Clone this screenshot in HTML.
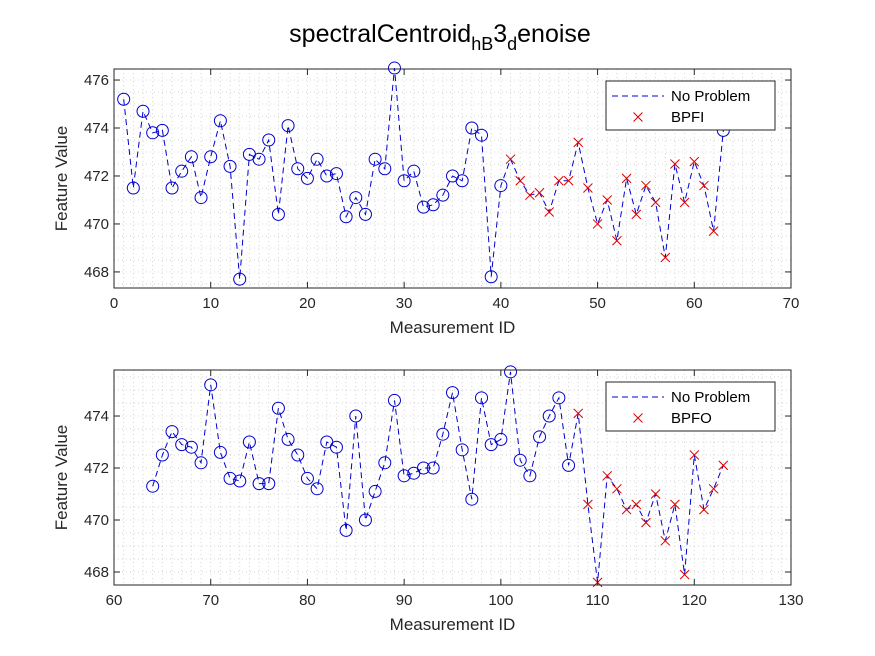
<!DOCTYPE html>
<html><head><meta charset="utf-8"><style>
html,body{margin:0;padding:0;background:#fff;}
svg{display:block;font-family:"Liberation Sans",sans-serif;}
</style></head><body>
<svg id="fig" width="875" height="656" viewBox="0 0 875 656" xmlns="http://www.w3.org/2000/svg">
<rect width="875" height="656" fill="#fff"/>
<text x="440" y="42" font-size="25" text-anchor="middle" fill="#000">spectralCentroid<tspan font-size="18" dy="8">hB</tspan><tspan dy="-8">3</tspan><tspan font-size="18" dy="8">d</tspan><tspan dy="-8">enoise</tspan></text>
</svg>
<script>
const topIds=[1,2,3,4,5,6,7,8,9,10,11,12,13,14,15,16,17,18,19,20,21,22,23,24,25,26,27,28,29,30,31,32,33,34,35,36,37,38,39,40,41,42,43,44,45,46,47,48,49,50,51,52,53,54,55,56,57,58,59,60,61,62,63];
const topValues=[475.2,471.5,474.7,473.8,473.9,471.5,472.2,472.8,471.1,472.8,474.3,472.4,467.7,472.9,472.7,473.5,470.4,474.1,472.3,471.9,472.7,472.0,472.1,470.3,471.1,470.4,472.7,472.3,476.5,471.8,472.2,470.7,470.8,471.2,472.0,471.8,474.0,473.7,467.8,471.6,472.7,471.8,471.2,471.3,470.5,471.8,471.8,473.4,471.5,470.0,471.0,469.3,471.9,470.4,471.6,470.9,468.6,472.5,470.9,472.6,471.6,469.7,473.9];
const topFault=[0,0,0,0,0,0,0,0,0,0,0,0,0,0,0,0,0,0,0,0,0,0,0,0,0,0,0,0,0,0,0,0,0,0,0,0,0,0,0,0,1,1,1,1,1,1,1,1,1,1,1,1,1,1,1,1,1,1,1,1,1,1,0];
const botIds=[64,65,66,67,68,69,70,71,72,73,74,75,76,77,78,79,80,81,82,83,84,85,86,87,88,89,90,91,92,93,94,95,96,97,98,99,100,101,102,103,104,105,106,107,108,109,110,111,112,113,114,115,116,117,118,119,120,121,122,123];
const botValues=[471.3,472.5,473.4,472.9,472.8,472.2,475.2,472.6,471.6,471.5,473.0,471.4,471.4,474.3,473.1,472.5,471.6,471.2,473.0,472.8,469.6,474.0,470.0,471.1,472.2,474.6,471.7,471.8,472.0,472.0,473.3,474.9,472.7,470.8,474.7,472.9,473.1,475.7,472.3,471.7,473.2,474.0,474.7,472.1,474.1,470.6,467.6,471.7,471.2,470.4,470.6,469.9,471.0,469.2,470.6,467.9,472.5,470.4,471.2,472.1];
const botFault=[0,0,0,0,0,0,0,0,0,0,0,0,0,0,0,0,0,0,0,0,0,0,0,0,0,0,0,0,0,0,0,0,0,0,0,0,0,0,0,0,0,0,0,0,1,1,1,1,1,1,1,1,1,1,1,1,1,1,1,1];
const topXTicks=[0,10,20,30,40,50,60,70];
const topYTicks=[468,470,472,474,476];
const botXTicks=[60,70,80,90,100,110,120,130];
const botYTicks=[468,470,472,474];

const NS="http://www.w3.org/2000/svg";
const svg=document.getElementById('fig');
function mk(tag,attrs,parent){const e=document.createElementNS(NS,tag);for(const k in attrs)e.setAttribute(k,attrs[k]);(parent||svg).appendChild(e);return e;}

function panel(cfg){
  const {L,R,T,B,xmin,xmax,ymin,ymax,ids,vals,fault,xt,yt,label,name}=cfg;
  const g=mk('g',{});
  
  
  const sx=v=>L+(v-xmin)/(xmax-xmin)*(R-L);
  const sy=v=>B-(v-ymin)/(ymax-ymin)*(B-T);
  mk('rect',{x:L,y:T,width:R-L,height:B-T,fill:'#fff'},g);
  const grid=mk('g',{stroke:'#d4d4d4','stroke-width':1,'stroke-dasharray':'1,3'},g);
  
  
  for(let x=Math.ceil(xmin);x<=xmax;x++){const px=sx(x);mk('line',{x1:px,x2:px,y1:T,y2:B},grid);}
  for(let y=Math.ceil(ymin*2)/2;y<=ymax;y+=0.5){const py=sy(y);mk('line',{x1:L,x2:R,y1:py,y2:py},grid);}
  let d='';ids.forEach((id,i)=>{d+=(i?'L':'M')+sx(id).toFixed(1)+','+sy(vals[i]).toFixed(1);});
  const ln=mk('path',{d:d,fill:'none',stroke:'#0000d0','stroke-width':1,'stroke-dasharray':'6,4'},g);
  
  
  ids.forEach((id,i)=>{
    const cx=sx(id),cy=sy(vals[i]);
    if(fault[i]){
      const m=mk('path',{d:`M${cx-4.5},${cy-4.5}L${cx+4.5},${cy+4.5}M${cx-4.5},${cy+4.5}L${cx+4.5},${cy-4.5}`,stroke:'#e00000','stroke-width':1,fill:'none'},g);
      
      
    } else {
      const m=mk('circle',{cx:cx,cy:cy,r:6,fill:'none',stroke:'#0000d0','stroke-width':1},g);
      
      
    }
  });
  mk('rect',{x:L,y:T,width:R-L,height:B-T,fill:'none',stroke:'#262626','stroke-width':1},g);
  xt.forEach(v=>{const px=sx(v);mk('line',{x1:px,x2:px,y1:B,y2:B-6,stroke:'#262626'},g);mk('line',{x1:px,x2:px,y1:T,y2:T+6,stroke:'#262626'},g);
    const t=mk('text',{x:px,y:B+20,'font-size':15,'text-anchor':'middle',fill:'#262626'},g);t.textContent=v;
    
    });
  yt.forEach(v=>{const py=sy(v);mk('line',{x1:L,x2:L+6,y1:py,y2:py,stroke:'#262626'},g);mk('line',{x1:R,x2:R-6,y1:py,y2:py,stroke:'#262626'},g);
    const t=mk('text',{x:L-5,y:py+5,'font-size':15,'text-anchor':'end',fill:'#262626'},g);t.textContent=v;
    
    });
  const xl=mk('text',{x:(L+R)/2,y:B+45,'font-size':17,'text-anchor':'middle',fill:'#262626'},g);xl.textContent='Measurement ID';
  
  
  const yl=mk('text',{x:0,y:0,'font-size':17,'text-anchor':'middle',fill:'#262626',transform:`translate(${L-47},${(T+B)/2}) rotate(-90)`},g);yl.textContent='Feature Value';
  
  
  const lg=mk('g',{},g);
  
  
  const lx=606,ly=T+12;
  mk('rect',{x:lx,y:ly,width:169,height:49,fill:'#fff',stroke:'#262626','stroke-width':1},lg);
  mk('line',{x1:lx+6,x2:lx+58,y1:ly+15,y2:ly+15,stroke:'#0000d0','stroke-dasharray':'6,4'},lg);
  const t1=mk('text',{x:lx+65,y:ly+20,'font-size':15,fill:'#000'},lg);t1.textContent='No Problem';
  
  
  const cx=lx+32,cy=ly+36;
  mk('path',{d:`M${cx-4.5},${cy-4.5}L${cx+4.5},${cy+4.5}M${cx-4.5},${cy+4.5}L${cx+4.5},${cy-4.5}`,stroke:'#e00000'},lg);
  const t2=mk('text',{x:lx+65,y:ly+41,'font-size':15,fill:'#000'},lg);t2.textContent=label;
  
  
}
panel({L:114,R:791,T:69,B:288,xmin:0,xmax:70,ymin:467.33,ymax:476.46,ids:topIds,vals:topValues,fault:topFault,xt:topXTicks,yt:topYTicks,label:'BPFI',name:'top-axes'});
panel({L:114,R:791,T:370,B:585,xmin:60,xmax:130,ymin:467.5,ymax:475.77,ids:botIds,vals:botValues,fault:botFault,xt:botXTicks,yt:botYTicks,label:'BPFO',name:'bottom-axes'});
</script>
</body></html>
